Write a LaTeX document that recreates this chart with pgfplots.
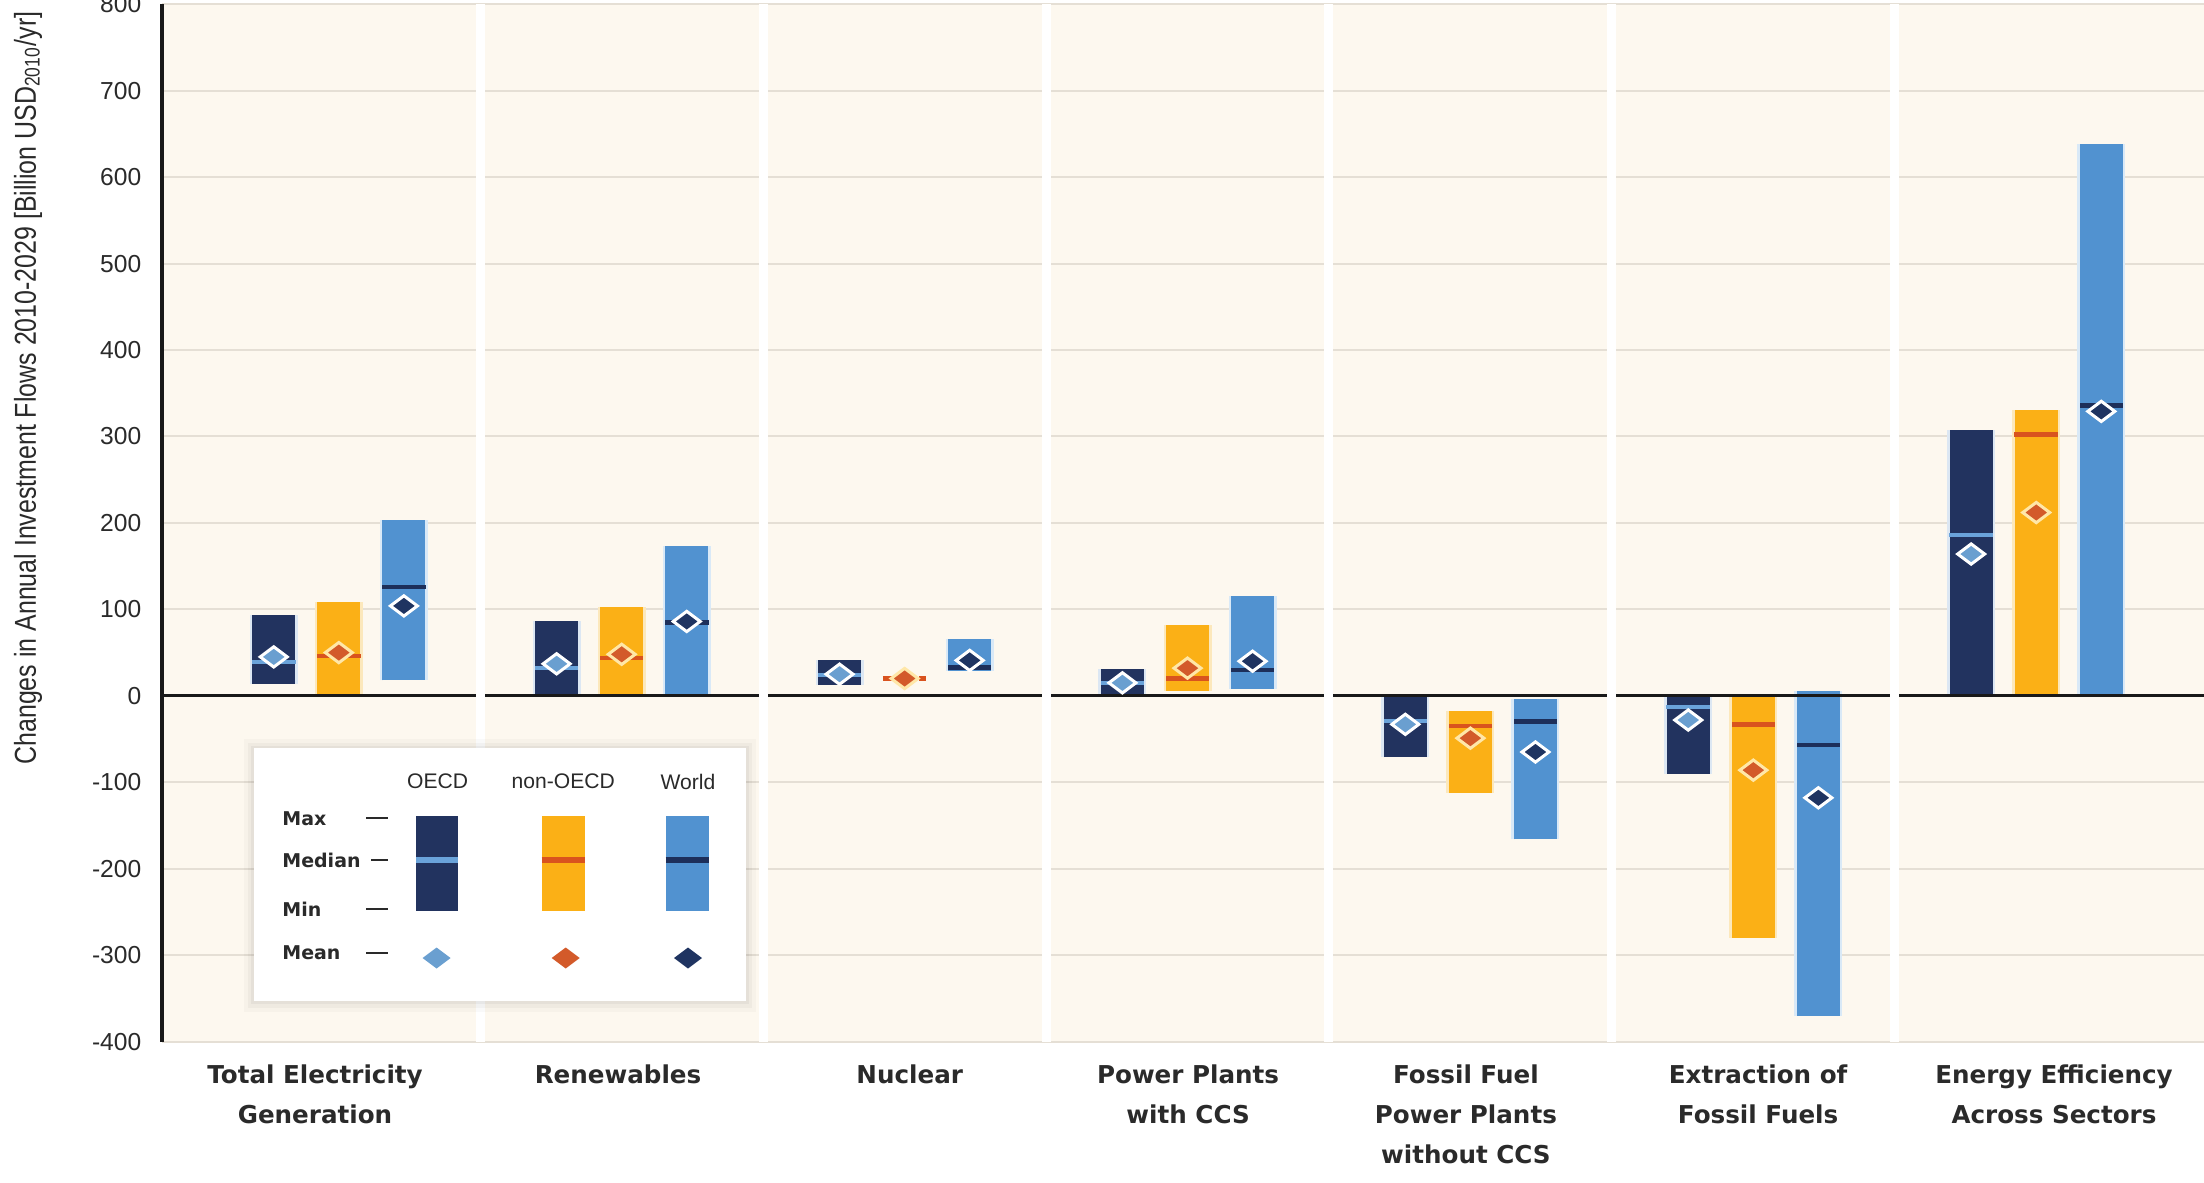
\documentclass[border=0pt]{standalone}
\usepackage{fontspec}
\usepackage{pgfplots}
\usepackage{pgfplotstable}
\pgfplotsset{compat=1.18}
\setmainfont{Liberation Sans}
\newfontfamily\deja{DejaVu Sans}
\newfontfamily\condfont{Liberation Sans}[FakeStretch=0.825]
\newcommand\catfont{\deja\bfseries\fontsize{7pt}{11.4pt}\selectfont}
\newcommand\tickfont{\fontsize{7pt}{8pt}\selectfont}
\newcommand\legfont{\fontsize{6pt}{7pt}\selectfont}
\newcommand\legbold{\deja\bfseries\fontsize{5.4pt}{6pt}\selectfont}

\definecolor{bgc}{HTML}{FDF8EF}
\definecolor{gridc}{HTML}{E5DFD5}
\definecolor{oecd}{HTML}{22335F}
\definecolor{oecdmed}{HTML}{6AA3DA}
\definecolor{oecdmean}{HTML}{6A9FD0}
\definecolor{oecdglow}{HTML}{DCE7F3}
\definecolor{non}{HTML}{FBB016}
\definecolor{nonmed}{HTML}{D9531E}
\definecolor{nonmean}{HTML}{D35A2A}
\definecolor{nonglow}{HTML}{FCE8BC}
\definecolor{nonedge}{HTML}{FFE7A8}
\definecolor{world}{HTML}{5192D0}
\definecolor{worldmed}{HTML}{1D2F5A}
\definecolor{worldmean}{HTML}{1F3461}
\definecolor{worldglow}{HTML}{D9E9F7}
\definecolor{txt}{HTML}{2A2A2A}

% columns: category index, min, max, median, mean
\pgfplotstableread{
x min max med mean
0 14 93 39 45
1 0 87 32 37
2 13 42 24 25
3 1 31 15 15
4 -71 0 -29 -33
5 -90 0 -13 -28
6 0 308 186 164
}\oecdT
\pgfplotstableread{
x min max med mean
0 0 108 46 50
1 0 103 44 48
2 20 20 nan 20
3 6 82 20 32
4 -112 -17 -35 -49
5 -280 0 -33 -86
6 0 331 302 212
}\nonT
\pgfplotstableread{
x min max med mean
0 18 203 126 104
1 0 173 85 86
2 29 66 33 41
3 8 115 30 40
4 -166 -4 -30 -65
5 -370 6 -57 -118
6 0 638 336 329
}\worldT

\pgfplotsset{
  rangebar/.style n args={2}{forget plot, only marks, mark=text, text mark={},
    error bars/.cd, y dir=both, y explicit, error mark=none,
    error bar style={line width=#1, draw=#2, line cap=butt}},
  medbar/.style={forget plot, only marks, mark=text, text mark={}, unbounded coords=discard,
    error bars/.cd, x dir=both, x fixed=0.077, error mark=none,
    error bar style={line width=0.45mm, draw=#1}},
  meanmark/.style 2 args={forget plot, only marks, mark=diamond*, mark size=1.35mm,
    mark options={rotate=90, fill=#1, draw=#2, line width=0.3mm}},
}

\begin{document}
\begin{tikzpicture}
\begin{axis}[
  name=ax,
  at={(16.2mm,14.04mm)}, anchor=south west,
  width=204.2mm, height=103.74mm, scale only axis,
  xmin=-0.625, xmax=6.593, ymin=-400, ymax=800,
  ytick={-400,-300,...,800},
  xtick={-0.084,0.987,2.018,3.002,3.984,5.017,6.063},
  xticklabels={{Total Electricity\\Generation},{Renewables},{Nuclear},{Power Plants\\with CCS},{Fossil Fuel\\Power Plants\\without CCS},{Extraction of\\Fossil Fuels},{Energy Efficiency\\Across Sectors}},
  major tick length=0pt,
  axis line style={draw=none},
  ymajorgrids,
  grid style={draw=gridc, line width=0.2mm},
  axis background/.style={fill=bgc},
  /pgf/number format/assume math mode=true,
  yticklabel style={font=\tickfont, text=txt, anchor=east, inner sep=0pt, xshift=-2mm},
  xticklabel style={font=\catfont, text=txt, align=center, anchor=north, inner sep=0pt, yshift=-2.2mm},
]
% glow
\addplot[rangebar={4.8mm}{oecdglow}] table[x expr=\thisrow{x}-0.23, y=min, y error plus expr=\thisrow{max}-\thisrow{min}, y error minus expr=0]{\oecdT};
\addplot[rangebar={4.8mm}{nonglow}] table[x=x, y=min, y error plus expr=\thisrow{max}-\thisrow{min}, y error minus expr=0]{\nonT};
\addplot[rangebar={4.8mm}{worldglow}] table[x expr=\thisrow{x}+0.23, y=min, y error plus expr=\thisrow{max}-\thisrow{min}, y error minus expr=0]{\worldT};
% bars
\addplot[rangebar={4.3mm}{oecd}] table[x expr=\thisrow{x}-0.23, y=min, y error plus expr=\thisrow{max}-\thisrow{min}, y error minus expr=0]{\oecdT};
\addplot[rangebar={4.3mm}{non}] table[x=x, y=min, y error plus expr=\thisrow{max}-\thisrow{min}, y error minus expr=0]{\nonT};
\addplot[rangebar={4.3mm}{world}] table[x expr=\thisrow{x}+0.23, y=min, y error plus expr=\thisrow{max}-\thisrow{min}, y error minus expr=0]{\worldT};
% medians
\addplot[medbar=oecdmed] table[x expr=\thisrow{x}-0.23, y=med]{\oecdT};
\addplot[medbar=nonmed] table[x=x, y=med]{\nonT};
\addplot[medbar=worldmed] table[x expr=\thisrow{x}+0.23, y=med]{\worldT};
% nuclear non-OECD: zero-width range drawn dashed
\addplot[forget plot, nonmed, line width=0.45mm, dash pattern=on 1.1mm off 0.7mm] coordinates {(1.923,20) (2.077,20)};
% zero line
\addplot[forget plot, black!90, line width=0.3mm] coordinates {(-0.625,0) (6.593,0)};
% panel separators
\pgfplotsinvokeforeach{0.5,1.5,2.5,3.5,4.5,5.5}{
  \draw[white, line width=0.9mm] (axis cs:#1,-400) -- (axis cs:#1,800);
}
% means
\addplot[meanmark={oecdmean}{white}] table[x expr=\thisrow{x}-0.23, y=mean]{\oecdT};
\addplot[meanmark={nonmean}{nonedge}] table[x=x, y=mean]{\nonT};
\addplot[meanmark={worldmean}{white}] table[x expr=\thisrow{x}+0.23, y=mean]{\worldT};
\end{axis}
\draw[black!90, line width=0.45mm] (ax.south west) -- (ax.north west);

% y label
\node[rotate=90, text=txt, font=\condfont\fontsize{8.6pt}{9pt}\selectfont] at (2.8mm,79.4mm)
  {Changes in Annual Investment Flows 2010-2029 [Billion USD\textsubscript{2010}/yr]};

% legend (coordinates in reference pixels, y downward)
\begin{scope}[shift={(0,118.2mm)}, x=0.1mm, y=-0.1mm]
  \fill[black, opacity=0.025] (244,739) rectangle (756,1012);
  \fill[black, opacity=0.03] (248,743) rectangle (752,1008);
  \fill[black, opacity=0.04] (251,746) rectangle (749,1004);
  \fill[white] (254,748) rectangle (746,1001);
  \node[font=\legfont, text=txt] at (437.6,781.7) {OECD};
  \node[font=\legfont, text=txt] at (563.3,781.7) {non-OECD};
  \node[font=\legfont, text=txt] at (688,781.7) {World};
  \node[font=\legbold, text=txt, anchor=west, inner sep=0pt] at (281.7,818.3) {Max};
  \node[font=\legbold, text=txt, anchor=west, inner sep=0pt] at (281.7,860) {Median};
  \node[font=\legbold, text=txt, anchor=west, inner sep=0pt] at (281.7,909) {Min};
  \node[font=\legbold, text=txt, anchor=west, inner sep=0pt] at (281.7,952.7) {Mean};
  \draw[txt, line width=0.2mm] (366,818.3) -- (388,818.3);
  \draw[txt, line width=0.2mm] (371,860) -- (388,860);
  \draw[txt, line width=0.2mm] (366,909) -- (388,909);
  \draw[txt, line width=0.2mm] (366,952.7) -- (388,952.7);
  \fill[oecd] (416,816) rectangle (458,911);
  \draw[oecdmed, line width=0.55mm] (416,860) -- (458,860);
  \fill[non] (541.6,816) rectangle (584.7,911);
  \draw[nonmed, line width=0.55mm] (541.6,860) -- (584.7,860);
  \fill[world] (665.6,816) rectangle (708.6,911);
  \draw[worldmed, line width=0.55mm] (665.6,860) -- (708.6,860);
  \fill[oecdmean] (422.6,958) -- (436.6,947.5) -- (450.6,958) -- (436.6,968.5) -- cycle;
  \fill[nonmean] (551.7,958) -- (565.7,947.5) -- (579.7,958) -- (565.7,968.5) -- cycle;
  \fill[worldmean] (674,958) -- (688,947.5) -- (702,958) -- (688,968.5) -- cycle;
\end{scope}

\pgfresetboundingbox
\path (0,0) rectangle (220.4mm,118.2mm);
\end{tikzpicture}
\end{document}
